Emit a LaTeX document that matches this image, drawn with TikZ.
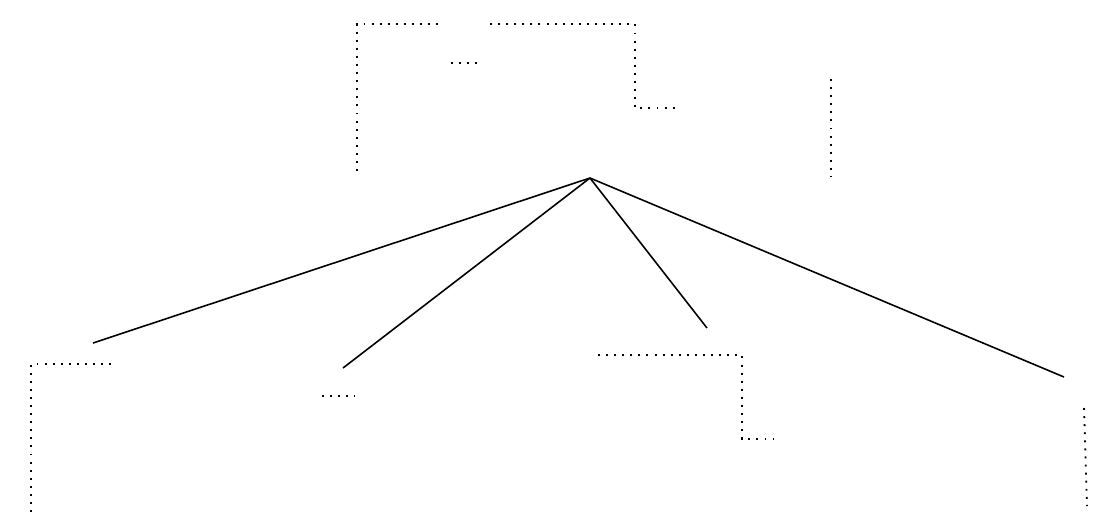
\documentclass[tikz,border=0pt]{standalone}
\begin{document}
\begin{tikzpicture}[x=0.02cm,y=-0.02cm,
  dots/.style={line width=1.1pt,dash pattern=on 1.1pt off 3.5pt},
  branch/.style={line width=0.9pt}]
\useasboundingbox (0,0) rectangle (1107,529);

% root and the four branch ends
\coordinate (root) at (590,178);
\coordinate (leafA) at (93,343);
\coordinate (leafB) at (343,368);
\coordinate (leafC) at (707,328);
\coordinate (leafD) at (1064,377);

\draw[branch] (root) -- (leafA);
\draw[branch] (root) -- (leafB);
\draw[branch] (root) -- (leafC);
\draw[branch] (root) -- (leafD);

% upper dotted outline
\draw[dots] (357,171) -- (357,24) -- (438,24);
\draw[dots] (490,24) -- (635,24) -- (635,108) -- (680,108);
\draw[dots] (451,63) -- (483,63);
\draw[dots] (831,79) -- (831,177);

% lower dotted pieces
\draw[dots] (31,512) -- (31,364) -- (113,364);
\draw[dots] (322,396) -- (355,396);
\draw[dots] (598,355) -- (742,355) -- (742,439) -- (773,439);
\draw[dots] (1084,408) -- (1087,506);
\end{tikzpicture}
\end{document}
